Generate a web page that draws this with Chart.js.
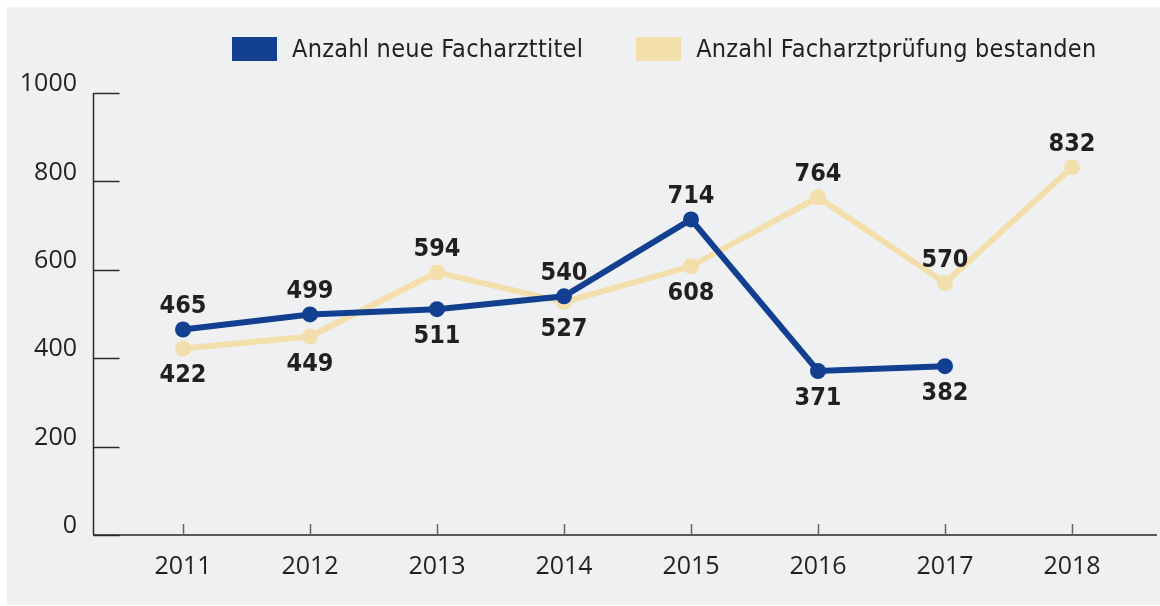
<!DOCTYPE html>
<html>
<head>
<meta charset="utf-8">
<script src="https://cdn.jsdelivr.net/npm/chart.js@4/dist/chart.umd.min.js"></script>
<style>
  html, body { margin: 0; padding: 0; background: #fff; }
  body { width: 1160px; height: 606px; position: relative; overflow: hidden; }
  .panel { position: absolute; left: 7px; top: 7px; right: 0; bottom: 1px; background: #eff0f2; }
  .chart-wrapper { position: absolute; left: 0; top: 0; width: 1160px; height: 606px; }
  .legend { position: absolute; top: 34px; left: 232px; display: flex; align-items: center; white-space: nowrap;
            font-family: "Liberation Sans Narrow", "DejaVu Sans Condensed", sans-serif; font-size: 25px;
            letter-spacing: 0.25px; color: #231f20; }
  .legend span.box { display: inline-block; width: 45px; height: 24px; margin-right: 15px; }
  .legend .item { display: flex; align-items: center; margin-right: 53px; }
</style>
</head>
<body>
<div class="panel"></div>
<div class="chart-wrapper"><canvas id="chart" width="1160" height="606"></canvas></div>
<div class="legend" id="legend"></div>
<script>
const years = [2011, 2012, 2013, 2014, 2015, 2016, 2017, 2018];
const neueTitel = [465, 499, 511, 540, 714, 371, 382, null];
const pruefungBestanden = [422, 449, 594, 527, 608, 764, 570, 832];
const yTicks = [0, 200, 400, 600, 800, 1000];

// which side the value label sits on (1 = above, -1 = below)
const neueTitelSide = [1, 1, -1, 1, 1, -1, -1, 1];
const pruefungSide = [-1, -1, 1, -1, -1, 1, 1, 1];

const blue = '#123f8f';
const beige = '#f2dfab';
const textColor = '#231f20';

const toPoints = (arr) => years.map((y, i) => ({ x: y, y: arr[i] })).filter(p => p.y !== null);

const valueLabels = {
  id: 'valueLabels',
  afterDatasetsDraw(chart) {
    const ctx = chart.ctx;
    ctx.save();
    ctx.font = 'bold 25px "DejaVu Sans Condensed", "DejaVu Sans", sans-serif';
    ctx.fillStyle = textColor;
    ctx.textAlign = 'center';
    ctx.textBaseline = 'middle';
    chart.data.datasets.forEach((ds, di) => {
      const meta = chart.getDatasetMeta(di);
      meta.data.forEach((pt, i) => {
        const raw = ds.data[i];
        const idx = years.indexOf(raw.x);
        const side = ds.sides[idx];
        ctx.fillText(String(raw.y), pt.x, pt.y - side * 25 + 2.5);
      });
    });
    ctx.restore();
  }
};

const axisLines = {
  id: 'axisLines',
  beforeDatasetsDraw(chart) {
    const ctx = chart.ctx;
    const x = chart.scales.x, y = chart.scales.y;
    const area = chart.chartArea;
    ctx.save();
    // x axis
    ctx.strokeStyle = '#5a5a5a';
    ctx.lineWidth = 2;
    ctx.beginPath();
    ctx.moveTo(area.left, area.bottom);
    ctx.lineTo(area.right, area.bottom);
    ctx.stroke();
    ctx.lineWidth = 1.5;
    ctx.strokeStyle = '#666';
    years.forEach(v => {
      const px = Math.round(x.getPixelForValue(v)) + 0.5;
      ctx.beginPath();
      ctx.moveTo(px, area.bottom);
      ctx.lineTo(px, area.bottom - 11);
      ctx.stroke();
    });
    // y axis
    ctx.strokeStyle = '#2b2b2b';
    ctx.lineWidth = 1.5;
    const left = Math.round(area.left) + 0.5;
    ctx.beginPath();
    ctx.moveTo(left, y.getPixelForValue(1000));
    ctx.lineTo(left, y.getPixelForValue(0));
    ctx.stroke();
    yTicks.forEach(v => {
      const py = Math.round(y.getPixelForValue(v)) + 0.5;
      ctx.beginPath();
      ctx.moveTo(left, py);
      ctx.lineTo(left + 26, py);
      ctx.stroke();
    });
    ctx.restore();
  }
};

const ctx = document.getElementById('chart').getContext('2d');
const chart = new Chart(ctx, {
  type: 'line',
  data: {
    datasets: [
      {
        label: 'Anzahl neue Facharzttitel',
        data: toPoints(neueTitel),
        sides: neueTitelSide,
        borderColor: blue,
        backgroundColor: blue,
        borderWidth: 6,
        pointRadius: 8,
        pointBackgroundColor: blue,
        pointBorderWidth: 0,
        tension: 0
      },
      {
        label: 'Anzahl Facharztprüfung bestanden',
        data: toPoints(pruefungBestanden),
        sides: pruefungSide,
        borderColor: beige,
        backgroundColor: beige,
        borderWidth: 6,
        pointRadius: 8,
        pointBackgroundColor: beige,
        pointBorderWidth: 0,
        tension: 0
      }
    ]
  },
  options: {
    responsive: false,
    animation: false,
    events: [],
    layout: { autoPadding: false, padding: { top: 93, right: 3, left: 0, bottom: 0 } },
    plugins: {
      legend: { display: false },
      tooltip: { enabled: false }
    },
    scales: {
      x: {
        type: 'linear',
        min: 2011 - 90 / 127,
        max: 2018 + 85 / 127,
        grid: { display: false, drawTicks: false },
        border: { display: false },
        afterBuildTicks: (scale) => { scale.ticks = years.map(v => ({ value: v })); },
        afterFit: (scale) => {
          scale.height = 71;
          scale.paddingLeft = 0;
          scale.paddingRight = 0;
        },
        ticks: {
          padding: 17,
          color: textColor,
          font: { family: '"Open Sans", sans-serif', size: 25 },
          callback: (v) => String(v),
          maxRotation: 0,
          autoSkip: false
        }
      },
      y: {
        min: 0,
        max: 1000,
        grid: { display: false, drawTicks: false },
        border: { display: false },
        afterBuildTicks: (scale) => { scale.ticks = yTicks.map(v => ({ value: v })); },
        afterFit: (scale) => { scale.width = 93; },
        ticks: {
          padding: 16,
          labelOffset: -9,
          color: textColor,
          font: { family: '"Open Sans", sans-serif', size: 25 },
          callback: (v) => String(v)
        }
      }
    }
  },
  plugins: [axisLines, valueLabels]
});

// legend from the datasets
const legendEl = document.getElementById('legend');
chart.data.datasets.forEach(ds => {
  const item = document.createElement('div');
  item.className = 'item';
  const box = document.createElement('span');
  box.className = 'box';
  box.style.background = ds.borderColor;
  const txt = document.createElement('span');
  txt.textContent = ds.label;
  item.appendChild(box);
  item.appendChild(txt);
  legendEl.appendChild(item);
});
</script>
</body>
</html>
